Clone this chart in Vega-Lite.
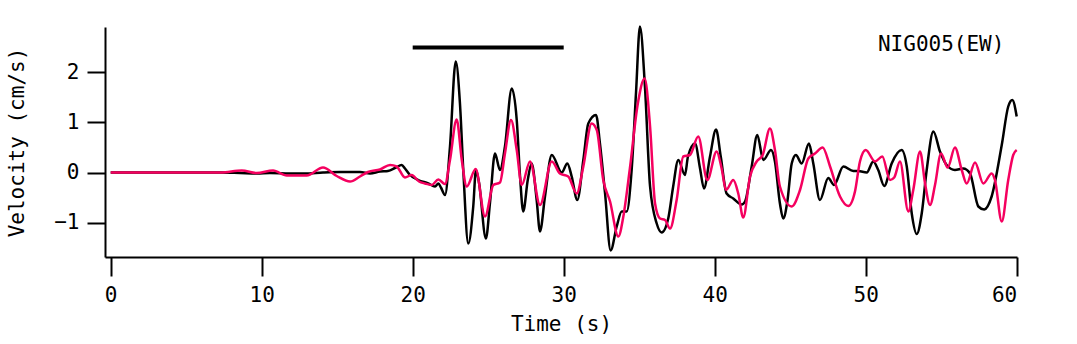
{
  "$schema": "https://vega.github.io/schema/vega-lite/v6.json",
  "autosize": "none",
  "width": 912,
  "height": 230,
  "padding": {"left": 105, "top": 27, "right": 60, "bottom": 87},
  "background": "white",
  "config": {
    "view": {"stroke": null},
    "axis": {
      "grid": false,
      "domainColor": "#000000",
      "domainWidth": 2,
      "tickColor": "#000000",
      "tickWidth": 2,
      "labelFont": "DejaVu Sans Mono",
      "labelFontSize": 21,
      "labelColor": "#000000",
      "titleFont": "DejaVu Sans Mono",
      "titleFontSize": 21,
      "titleFontWeight": "normal",
      "titleColor": "#000000"
    }
  },
  "datasets": {
    "black": [
      {"t": 0, "v": 0}, {"t": 7.3, "v": 0}, {"t": 8.56, "v": -0.01}, {"t": 9.69, "v": -0.02},
      {"t": 10.55, "v": -0.01}, {"t": 11.88, "v": -0.02}, {"t": 12.87, "v": -0.02}, {"t": 14.06, "v": 0.0},
      {"t": 15.19, "v": 0.01}, {"t": 16.51, "v": 0.01}, {"t": 17.17, "v": -0.02}, {"t": 17.83, "v": 0.02},
      {"t": 18.36, "v": 0.03}, {"t": 18.89, "v": 0.1}, {"t": 19.27, "v": 0.15}, {"t": 19.49, "v": 0.08},
      {"t": 19.82, "v": -0.05}, {"t": 20.37, "v": -0.15}, {"t": 21.03, "v": -0.22}, {"t": 21.48, "v": -0.28},
      {"t": 21.7, "v": -0.22}, {"t": 21.87, "v": -0.3}, {"t": 22.14, "v": -0.45}, {"t": 22.47, "v": 0.52},
      {"t": 22.85, "v": 2.22}, {"t": 23.13, "v": 1.38}, {"t": 23.35, "v": 0.05}, {"t": 23.68, "v": -1.42},
      {"t": 24.01, "v": -0.68}, {"t": 24.19, "v": 0.05}, {"t": 24.39, "v": -0.2}, {"t": 24.85, "v": -1.32},
      {"t": 25.12, "v": -0.6}, {"t": 25.45, "v": 0.38}, {"t": 25.78, "v": 0.05}, {"t": 26.11, "v": 0.52},
      {"t": 26.56, "v": 1.68}, {"t": 26.89, "v": 1.05}, {"t": 27.11, "v": -0.08}, {"t": 27.32, "v": -0.78},
      {"t": 27.62, "v": -0.15}, {"t": 27.88, "v": 0.18}, {"t": 28.21, "v": -0.55}, {"t": 28.43, "v": -1.18},
      {"t": 28.76, "v": -0.48}, {"t": 29.21, "v": 0.35}, {"t": 29.87, "v": 0.0}, {"t": 30.24, "v": 0.18},
      {"t": 30.53, "v": -0.08}, {"t": 30.9, "v": -0.55}, {"t": 31.3, "v": 0.25}, {"t": 31.63, "v": 0.98},
      {"t": 32.14, "v": 1.15}, {"t": 32.4, "v": 0.58}, {"t": 32.74, "v": -0.42}, {"t": 33.11, "v": -1.56},
      {"t": 33.51, "v": -1.08}, {"t": 33.84, "v": -0.78}, {"t": 34.17, "v": -0.78}, {"t": 34.5, "v": 0.05},
      {"t": 34.79, "v": 1.6}, {"t": 35.05, "v": 2.92}, {"t": 35.38, "v": 1.72}, {"t": 35.72, "v": -0.28},
      {"t": 36.16, "v": -1.02}, {"t": 36.49, "v": -1.2}, {"t": 36.93, "v": -0.91}, {"t": 37.24, "v": -0.3},
      {"t": 37.59, "v": 0.25}, {"t": 38.03, "v": -0.05}, {"t": 38.23, "v": 0.32}, {"t": 38.7, "v": 0.58},
      {"t": 39.03, "v": 0.08}, {"t": 39.29, "v": -0.32}, {"t": 39.69, "v": 0.32}, {"t": 40.09, "v": 0.86},
      {"t": 40.4, "v": 0.32}, {"t": 40.79, "v": -0.42}, {"t": 41.23, "v": -0.52}, {"t": 41.79, "v": -0.64},
      {"t": 42.01, "v": -0.58}, {"t": 42.45, "v": 0.12}, {"t": 42.82, "v": 0.75}, {"t": 43.22, "v": 0.25},
      {"t": 43.73, "v": 0.45}, {"t": 43.99, "v": 0.22}, {"t": 44.32, "v": -0.62}, {"t": 44.54, "v": -0.92},
      {"t": 44.81, "v": -0.58}, {"t": 45.1, "v": 0.18}, {"t": 45.38, "v": 0.35}, {"t": 45.76, "v": 0.18},
      {"t": 46.24, "v": 0.58}, {"t": 46.53, "v": 0.18}, {"t": 46.97, "v": -0.55}, {"t": 47.52, "v": -0.11},
      {"t": 47.9, "v": -0.25}, {"t": 48.52, "v": 0.12}, {"t": 49.18, "v": 0.03}, {"t": 49.51, "v": 0.03},
      {"t": 50.07, "v": 0.0}, {"t": 50.5, "v": 0.22}, {"t": 50.83, "v": 0.05}, {"t": 51.23, "v": -0.27},
      {"t": 51.72, "v": 0.18}, {"t": 52.38, "v": 0.45}, {"t": 52.72, "v": 0.12}, {"t": 53.05, "v": -0.82},
      {"t": 53.38, "v": -1.23}, {"t": 53.71, "v": -0.82}, {"t": 54.04, "v": 0.05}, {"t": 54.48, "v": 0.82},
      {"t": 54.92, "v": 0.42}, {"t": 55.36, "v": 0.15}, {"t": 55.91, "v": 0.05}, {"t": 56.46, "v": 0.08},
      {"t": 56.91, "v": -0.02}, {"t": 57.46, "v": -0.68}, {"t": 57.85, "v": -0.74}, {"t": 58.34, "v": -0.48},
      {"t": 59.01, "v": 0.55}, {"t": 59.44, "v": 1.32}, {"t": 59.71, "v": 1.45}, {"t": 60.0, "v": 1.12}
    ],
    "pink": [
      {"t": 0, "v": 0}, {"t": 7.3, "v": 0}, {"t": 8.68, "v": 0.04}, {"t": 9.67, "v": -0.01},
      {"t": 10.75, "v": 0.04}, {"t": 11.66, "v": -0.06}, {"t": 12.98, "v": -0.06}, {"t": 14.06, "v": 0.1},
      {"t": 14.97, "v": -0.07}, {"t": 15.85, "v": -0.18}, {"t": 16.51, "v": -0.08}, {"t": 17.04, "v": 0.01},
      {"t": 17.83, "v": 0.06}, {"t": 18.5, "v": 0.15}, {"t": 18.94, "v": 0.12}, {"t": 19.49, "v": -0.1},
      {"t": 19.93, "v": -0.05}, {"t": 20.42, "v": -0.18}, {"t": 20.81, "v": -0.22}, {"t": 21.26, "v": -0.25},
      {"t": 21.7, "v": -0.14}, {"t": 22.14, "v": -0.23}, {"t": 22.47, "v": 0.25}, {"t": 22.91, "v": 1.06},
      {"t": 23.25, "v": 0.25}, {"t": 23.58, "v": -0.28}, {"t": 24.17, "v": 0.07}, {"t": 24.79, "v": -0.88},
      {"t": 25.34, "v": -0.25}, {"t": 25.78, "v": -0.2}, {"t": 26.11, "v": 0.38}, {"t": 26.51, "v": 1.05},
      {"t": 26.89, "v": 0.45}, {"t": 27.22, "v": -0.25}, {"t": 27.77, "v": 0.22}, {"t": 28.43, "v": -0.65},
      {"t": 29.21, "v": 0.22}, {"t": 29.75, "v": -0.02}, {"t": 30.3, "v": -0.08}, {"t": 30.86, "v": -0.42},
      {"t": 31.3, "v": 0.12}, {"t": 31.85, "v": 0.98}, {"t": 32.19, "v": 0.85}, {"t": 32.62, "v": -0.15},
      {"t": 33.07, "v": -0.58}, {"t": 33.62, "v": -1.28}, {"t": 33.95, "v": -0.88}, {"t": 34.37, "v": 0.05},
      {"t": 34.91, "v": 1.38}, {"t": 35.36, "v": 1.88}, {"t": 35.72, "v": 0.92}, {"t": 36.05, "v": -0.62},
      {"t": 36.38, "v": -0.92}, {"t": 36.71, "v": -0.95}, {"t": 37.04, "v": -1.12}, {"t": 37.48, "v": -0.55},
      {"t": 37.92, "v": 0.32}, {"t": 38.36, "v": 0.35}, {"t": 38.91, "v": 0.72}, {"t": 39.51, "v": -0.15},
      {"t": 40.13, "v": 0.42}, {"t": 40.46, "v": 0.08}, {"t": 40.75, "v": -0.35}, {"t": 41.23, "v": -0.15},
      {"t": 41.56, "v": -0.42}, {"t": 41.89, "v": -0.9}, {"t": 42.34, "v": -0.08}, {"t": 42.78, "v": 0.22},
      {"t": 43.18, "v": 0.35}, {"t": 43.66, "v": 0.88}, {"t": 43.99, "v": 0.45}, {"t": 44.32, "v": -0.28},
      {"t": 45.1, "v": -0.68}, {"t": 45.65, "v": -0.35}, {"t": 46.2, "v": 0.28}, {"t": 46.64, "v": 0.38},
      {"t": 47.15, "v": 0.5}, {"t": 47.64, "v": 0.12}, {"t": 48.3, "v": -0.48}, {"t": 48.85, "v": -0.67},
      {"t": 49.29, "v": -0.38}, {"t": 49.62, "v": 0.22}, {"t": 50.0, "v": 0.45}, {"t": 50.62, "v": 0.22},
      {"t": 51.1, "v": 0.32}, {"t": 51.61, "v": -0.15}, {"t": 51.89, "v": -0.1}, {"t": 52.27, "v": 0.22},
      {"t": 52.82, "v": -0.78}, {"t": 53.15, "v": -0.35}, {"t": 53.6, "v": 0.42}, {"t": 53.93, "v": -0.22},
      {"t": 54.26, "v": -0.65}, {"t": 54.59, "v": -0.25}, {"t": 54.99, "v": 0.38}, {"t": 55.43, "v": 0.1},
      {"t": 55.91, "v": 0.5}, {"t": 56.36, "v": 0.05}, {"t": 56.69, "v": -0.22}, {"t": 57.24, "v": 0.2},
      {"t": 57.79, "v": -0.22}, {"t": 58.34, "v": -0.02}, {"t": 58.56, "v": -0.15}, {"t": 59.01, "v": -0.98},
      {"t": 59.44, "v": -0.15}, {"t": 59.77, "v": 0.35}, {"t": 60.0, "v": 0.45}
    ],
    "bar": [{"start": 20, "end": 30, "level": 2.5}],
    "label": [{"station": "NIG005(EW)", "t": 55, "v": 2.55}]
  },
  "layer": [
    {
      "data": {"name": "black"},
      "mark": {"type": "line", "color": "#000000", "strokeWidth": 2.5, "interpolate": "monotone"},
      "encoding": {
        "x": {
          "field": "t", "type": "quantitative",
          "scale": {"domain": [-0.377, 60.02], "nice": false, "zero": false},
          "axis": {"values": [0, 10, 20, 30, 40, 50, 60], "tickSize": 19, "labelPadding": 8, "title": "Time (s)", "titlePadding": 8}
        },
        "y": {
          "field": "v", "type": "quantitative",
          "scale": {"domain": [-1.69, 2.91], "nice": false, "zero": false},
          "axis": {"values": [-1, 0, 1, 2], "tickSize": 18, "labelPadding": 8, "title": "Velocity (cm/s)", "titlePadding": 26}
        }
      }
    },
    {
      "data": {"name": "pink"},
      "mark": {"type": "line", "color": "#f5005f", "strokeWidth": 2.5, "interpolate": "monotone"},
      "encoding": {
        "x": {"field": "t", "type": "quantitative"},
        "y": {"field": "v", "type": "quantitative"}
      }
    },
    {
      "data": {"name": "bar"},
      "mark": {"type": "rule", "color": "#000000", "strokeWidth": 4},
      "encoding": {
        "x": {"field": "start", "type": "quantitative"},
        "x2": {"field": "end"},
        "y": {"field": "level", "type": "quantitative"}
      }
    },
    {
      "data": {"name": "label"},
      "mark": {"type": "text", "font": "DejaVu Sans Mono", "fontSize": 21, "color": "#000000", "align": "center", "baseline": "middle"},
      "encoding": {
        "x": {"field": "t", "type": "quantitative"},
        "y": {"field": "v", "type": "quantitative"},
        "text": {"field": "station"}
      }
    }
  ]
}
